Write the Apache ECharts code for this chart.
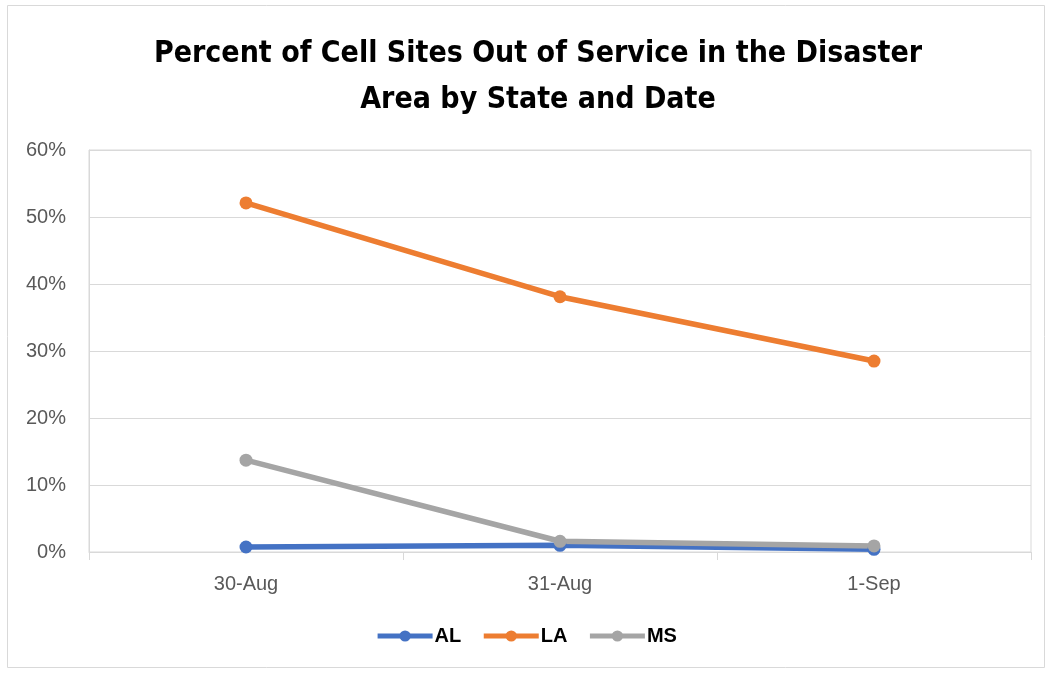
<!DOCTYPE html>
<html>
<head>
<meta charset="utf-8">
<style>html,body{margin:0;padding:0;background:#fff;}#c{width:1052px;height:673px;}</style>
<script src="https://cdn.jsdelivr.net/npm/echarts@6/dist/echarts.min.js"></script>
</head>
<body>
<div id="c"></div>
<script>
const categories = ['30-Aug', '31-Aug', '1-Sep'];
const AL = [0.75, 1.0, 0.4];
const LA = [52.1, 38.1, 28.5];
const MS = [13.7, 1.6, 0.9];
const titleText = 'Percent of Cell Sites Out of Service in the Disaster\nArea by State and Date';

const chart = echarts.init(document.getElementById('c'));
function mk(name, data, color) {
  return {
    name: name, type: 'line', data: data,
    symbol: 'circle', symbolSize: 13,
    lineStyle: { width: 5.5, color: color },
    itemStyle: { color: color },
    emphasis: { disabled: true },
    animation: false
  };
}
chart.setOption({
  animation: false,
  graphic: [{
    type: 'rect', shape: { x: 7.5, y: 5.5, width: 1037, height: 662 },
    style: { fill: 'none', stroke: '#d9d9d9', lineWidth: 1 }, silent: true
  }],
  title: {
    text: titleText, left: 533, top: 26, textAlign: 'center',
    textStyle: { fontFamily: '"DejaVu Sans Condensed", "Liberation Sans", sans-serif', fontWeight: 'bold', fontSize: 30, lineHeight: 46, color: '#000' }
  },
  legend: {
    data: ['AL', 'LA', 'MS'], bottom: 22, left: 'center',
    itemWidth: 55, itemHeight: 14, itemGap: 20,
    lineStyle: { width: 5 },
    textStyle: { fontFamily: 'Liberation Sans', fontWeight: 'bold', fontSize: 20, color: '#000', padding: [0, 0, 0, -3] }
  },
  grid: { left: 89, right: 21, top: 150, bottom: 121, show: true, borderColor: '#d9d9d9', borderWidth: 1 },
  xAxis: {
    type: 'category', data: categories, boundaryGap: true,
    axisLine: { lineStyle: { color: '#d9d9d9', width: 1 } },
    axisTick: { show: true, length: 8, lineStyle: { color: '#d9d9d9' } },
    axisLabel: { fontFamily: 'Liberation Sans', fontSize: 20, color: '#595959', margin: 22 }
  },
  yAxis: {
    type: 'value', min: 0, max: 60, interval: 10,
    axisLine: { show: true, lineStyle: { color: '#d9d9d9' } },
    axisLabel: { formatter: '{value}%', fontFamily: 'Liberation Sans', fontSize: 20, color: '#595959', margin: 23 },
    splitLine: { lineStyle: { color: '#d9d9d9', width: 1 } }
  },
  series: [mk('AL', AL, '#4472C4'), mk('LA', LA, '#ED7D31'), mk('MS', MS, '#A5A5A5')]
});
</script>
</body>
</html>
